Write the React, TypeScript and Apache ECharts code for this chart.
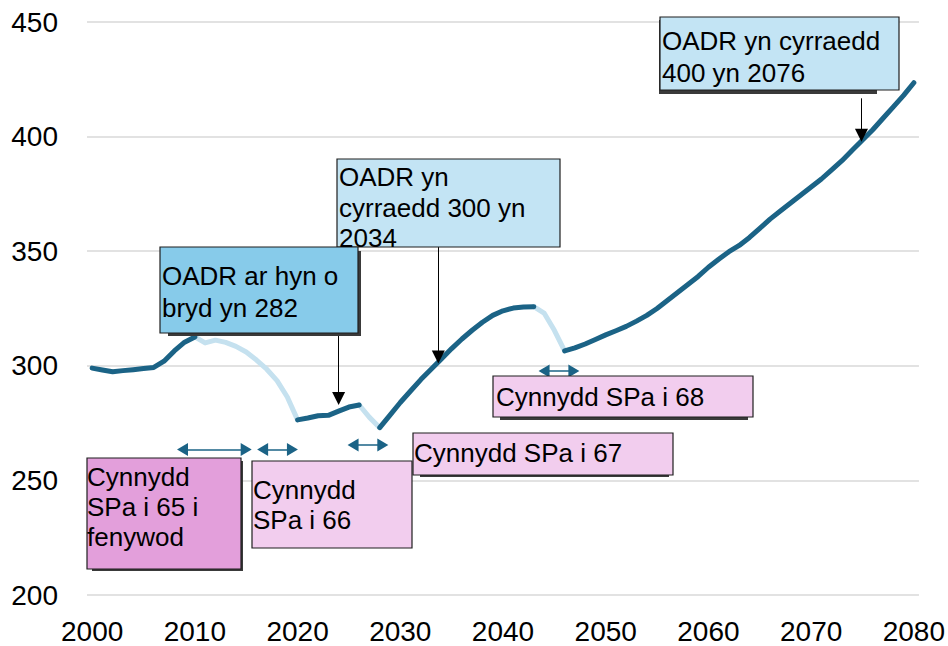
import React, { useEffect, useRef } from "react";
import * as echarts from "echarts";

// ---- Data ----
const years: number[] = [
  2000, 2001, 2002, 2003, 2004, 2005, 2006, 2007, 2008, 2009,
  2010, 2011, 2012, 2013, 2014, 2015, 2016, 2017, 2018, 2019,
  2020, 2021, 2022, 2023, 2024, 2025, 2026, 2027, 2028, 2029,
  2030, 2031, 2032, 2033, 2034, 2035, 2036, 2037, 2038, 2039,
  2040, 2041, 2042, 2043, 2044, 2045, 2046, 2047, 2048, 2049,
  2050, 2051, 2052, 2053, 2054, 2055, 2056, 2057, 2058, 2059,
  2060, 2061, 2062, 2063, 2064, 2065, 2066, 2067, 2068, 2069,
  2070, 2071, 2072, 2073, 2074, 2075, 2076, 2077, 2078, 2079,
  2080,
];

const oadr: number[] = [
  299.0, 298.2, 297.4, 297.9, 298.3, 298.8, 299.3, 302.0, 306.5, 310.3,
  312.6, 310.0, 311.2, 310.2, 308.5, 306.0, 302.5, 298.5, 293.5, 286.4,
  276.4, 277.2, 278.2, 278.4, 280.2, 282.0, 282.9, 277.5, 273.0, 278.5,
  284.0, 289.0, 294.0, 298.5, 303.0, 307.5, 311.7, 315.5, 319.0, 322.0,
  324.0, 325.2, 325.7, 325.8, 323.0, 315.5, 306.5, 307.8, 309.5, 311.5,
  313.5, 315.3, 317.2, 319.5, 322.0, 325.0, 328.5, 332.0, 335.5, 339.0,
  343.0, 346.5, 349.8, 352.5, 356.0, 360.0, 364.0, 367.5, 371.0, 374.5,
  378.0, 381.5, 385.5, 389.5, 394.0, 398.5, 403.0, 408.0, 413.0, 418.0,
  423.5,
];

// periods of State Pension age increase (drawn in light colour)
const spaPeriods: [number, number][] = [
  [2010, 2020],
  [2026, 2028],
  [2043, 2046],
];

const xTickLabels: number[] = [2000, 2010, 2020, 2030, 2040, 2050, 2060, 2070, 2080];

// annotation arrows (data coordinates)
const pointerArrowX: number[] = [2024.0, 2033.7, 2074.9];
const pointerArrowFrom: number[] = [313.9, 351.8, 416.7];
const pointerArrowTo: number[] = [285.7, 303.8, 400.6];

const spaArrowStart: number[] = [2008.8, 2016.6, 2025.4, 2044.0];
const spaArrowEnd: number[] = [2015.0, 2019.5, 2028.3, 2046.9];
const spaArrowLevel: number[] = [263.5, 263.5, 265.4, 297.7];

// annotation texts
const noteCurrent = "OADR ar hyn o\nbryd yn 282";
const note300 = "OADR yn\ncyrraedd 300 yn\n2034";
const note400 = "OADR yn cyrraedd\n400 yn 2076";
const noteSpa65 = "Cynnydd\nSPa i 65 i\nfenywod";
const noteSpa66 = "Cynnydd\nSPa i 66";
const noteSpa67 = "Cynnydd SPa i 67";
const noteSpa68 = "Cynnydd SPa i 68";

// ---- Styles ----
const FONT = '"Liberation Sans", Arial, Helvetica, sans-serif';
const DARK = "#1b6386";
const LIGHT = "#c5e1ef";
const TEAL = "#1b6386";
const SKY = "#87cbea";
const PALE_BLUE = "#c3e4f4";
const MAGENTA = "#e39fdb";
const PALE_PINK = "#f2cdee";
const BORDER = "#1f1f1f";
const SHADOW = "#3a3a3a";

type Box = {
  x: number; y: number; w: number; h: number;
  fill: string; text: string; tx: number; ty: number; lh: number;
  shadow?: { x: number; y: number; w: number; h: number };
};

const boxes: Box[] = [
  { x: 337, y: 159, w: 223, h: 88, fill: PALE_BLUE, text: note300, tx: 339, ty: 161.5, lh: 30.7 },
  { x: 160, y: 247, w: 198, h: 86, fill: SKY, text: noteCurrent, tx: 162, ty: 259.5, lh: 32,
    shadow: { x: 168, y: 251, w: 193, h: 85 } },
  { x: 660, y: 17, w: 239, h: 73, fill: PALE_BLUE, text: note400, tx: 662, ty: 24.5, lh: 32,
    shadow: { x: 659, y: 20, w: 218, h: 74 } },
  { x: 87, y: 458, w: 154, h: 111, fill: MAGENTA, text: noteSpa65, tx: 87, ty: 461.5, lh: 30,
    shadow: { x: 92, y: 461, w: 151, h: 110 } },
  { x: 252, y: 461, w: 160, h: 87, fill: PALE_PINK, text: noteSpa66, tx: 253, ty: 474.5, lh: 30 },
  { x: 413, y: 433, w: 260, h: 42, fill: PALE_PINK, text: noteSpa67, tx: 414, ty: 437.5, lh: 31,
    shadow: { x: 420, y: 436, w: 249, h: 41 } },
  { x: 493, y: 376, w: 260, h: 41, fill: PALE_PINK, text: noteSpa68, tx: 496, ty: 381.5, lh: 31,
    shadow: { x: 500, y: 379, w: 248, h: 41 } },
];

function inside(y: number, closed: boolean): boolean {
  return spaPeriods.some(([a, b]) => (closed ? y >= a && y <= b : y > a && y < b));
}

export default function App() {
  const ref = useRef<HTMLDivElement>(null);

  useEffect(() => {
    if (!ref.current) return;
    const chart = echarts.init(ref.current, undefined, { renderer: "svg" });

    const darkData = years.map((yr, i) => (inside(yr, false) ? [yr, "-"] : [yr, oadr[i]]));
    const lightData = years.map((yr, i) => (inside(yr, true) ? [yr, oadr[i]] : [yr, "-"]));

    const graphic: any[] = [];
    boxes.forEach((b) => {
      if (b.shadow) {
        graphic.push({
          type: "rect", silent: true, z: 100,
          shape: { x: b.shadow.x, y: b.shadow.y, width: b.shadow.w, height: b.shadow.h },
          style: { fill: SHADOW },
        });
      }
      graphic.push({
        type: "rect", silent: true, z: 100,
        shape: { x: b.x, y: b.y, width: b.w, height: b.h },
        style: { fill: b.fill, stroke: BORDER, lineWidth: 1.2 },
      });
      graphic.push({
        type: "text", silent: true, z: 101, x: b.tx, y: b.ty,
        style: {
          text: b.text, font: `26px ${FONT}`, fill: "#000",
          lineHeight: b.lh, verticalAlign: "top", align: "left",
        },
      });
    });

    const option: any = {
      animation: false,
      backgroundColor: "#fff",
      grid: { left: 87, right: 28, top: 22, bottom: 51 },
      xAxis: {
        type: "value",
        min: 1999.5,
        max: 2080.5,
        axisLine: { show: false },
        axisTick: { show: false },
        splitLine: { show: false },
        axisLabel: {
          customValues: xTickLabels,
          fontSize: 28,
          fontFamily: FONT,
          color: "#000",
          margin: 22,
          formatter: (v: number) => String(Math.round(v)),
        },
      },
      yAxis: {
        type: "value",
        min: 200,
        max: 450,
        interval: 50,
        axisLine: { show: false },
        axisTick: { show: false },
        splitLine: { lineStyle: { color: "#d9d9d9", width: 1.5 } },
        axisLabel: { fontSize: 28, fontFamily: FONT, color: "#000", margin: 29 },
      },
      series: [
        {
          type: "line", name: "SPa", data: lightData, symbol: "none", connectNulls: false,
          lineStyle: { color: LIGHT, width: 5, cap: "round", join: "round" }, z: 2, silent: true,
        },
        {
          type: "line", name: "OADR", data: darkData, symbol: "none", connectNulls: false,
          lineStyle: { color: DARK, width: 5, cap: "round", join: "round" }, z: 3, silent: true,
        },
        {
          type: "line", name: "pointers", data: [], silent: true, z: 5,
          markLine: {
            silent: true,
            symbol: ["none", "triangle"],
            symbolSize: [13, 13],
            lineStyle: { color: "#000", width: 1, type: "solid" },
            label: { show: false },
            emphasis: { disabled: true },
            data: pointerArrowX.map((x, i) => [
              { coord: [x, pointerArrowFrom[i]] },
              { coord: [x, pointerArrowTo[i]] },
            ]),
          },
        },
        {
          type: "line", name: "spa-arrows", data: [], silent: true, z: 5,
          markLine: {
            silent: true,
            symbol: ["triangle", "triangle"],
            symbolSize: [13, 11],
            lineStyle: { color: TEAL, width: 1.5, type: "solid" },
            label: { show: false },
            emphasis: { disabled: true },
            data: spaArrowStart.map((s, i) => [
              { coord: [s, spaArrowLevel[i]] },
              { coord: [spaArrowEnd[i], spaArrowLevel[i]] },
            ]),
          },
        },
      ],
      graphic,
    };

    chart.setOption(option);
    return () => chart.dispose();
  }, []);

  return (
    <div
      ref={ref}
      style={{ position: "fixed", left: 0, top: 0, width: 948, height: 646, background: "#fff" }}
    />
  );
}
